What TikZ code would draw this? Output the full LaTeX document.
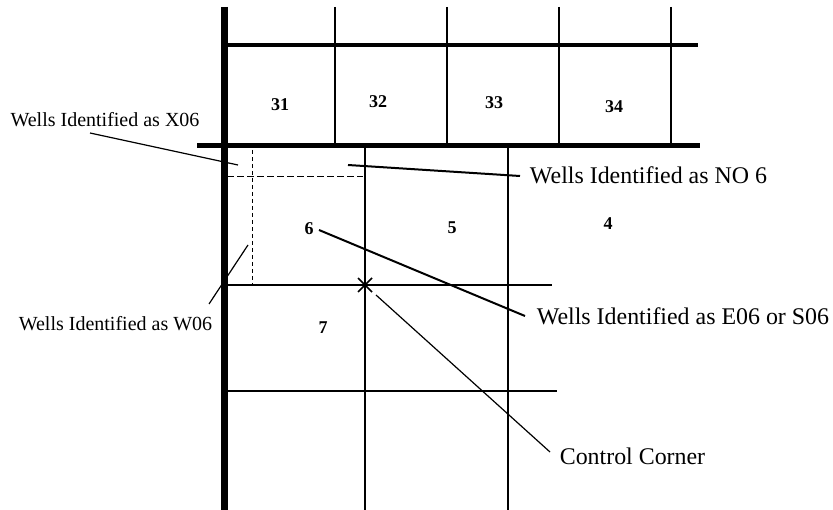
\documentclass[tikz,border=0pt]{standalone}
\usepackage{fontspec}
\setmainfont{Liberation Serif}
\usetikzlibrary{positioning,calc}

\tikzset{
    section/.style={font=\fontsize{18}{18}\selectfont\bfseries, inner sep=0pt},
    smalllabel/.style={font=\fontsize{20}{20}\selectfont, inner sep=0pt},
    biglabel/.style={font=\fontsize{23.9}{24}\selectfont, inner sep=0pt},
    leader/.style={line width=1.2pt},
    boldleader/.style={line width=2pt},
    gridline/.style={line width=2pt},
}

\begin{document}
\begin{tikzpicture}[x=1pt, y=-1pt]
    \useasboundingbox (0,0) rectangle (833,510);

    % Range line and township lines
    \draw[line width=7pt] (224,7) -- (224,510);
    \draw[line width=3.5pt] (224,45) -- (698,45);
    \draw[line width=5pt] (197,146) -- (700,146);

    % Sections in the row above
    \foreach \x/\w in {335/2.2, 447/1.5, 559/2.2, 671/1.2} {
        \draw[line width=\w pt] (\x,7) -- (\x,146);
    }

    % Section lines below
    \foreach \x in {365,508} {
        \draw[gridline] (\x,146) -- (\x,510);
    }
    \draw[gridline] (224,285.5) -- (552,285.5);
    \draw[gridline] (224,391.5) -- (557,391.5);

    % Lots along the lines
    \draw[dash pattern=on 4pt off 3pt, line width=1pt] (252,150) -- (252,285);
    \draw[dash pattern=on 7pt off 3pt, line width=1pt] (227,177) -- (363,177);

    % Section numbers
    \node[section] (s31) at (280,105) {31};
    \node[section] (s32) at (378,102) {32};
    \node[section] (s33) at (494,103) {33};
    \node[section] (s34) at (614,106.5) {34};
    \node[section] (s6) at (309,228.5) {6};
    \node[section] (s5) at (452,227.5) {5};
    \node[section] (s4) at (608,223.5) {4};
    \node[section] (s7) at (323,327.5) {7};

    % Control corner mark
    \node[inner sep=0pt, minimum size=0pt] (cross) at (365,285) {};
    \draw[line width=1.5pt] (358,278) -- (372,292);
    \draw[line width=1.5pt] (372,278) -- (358,292);

    % Labels
    \node[smalllabel] (x06) at (105,120) {Wells Identified as X06};
    \node[smalllabel] (w06) at (115.5,323.5) {Wells Identified as W06};
    \node[biglabel] (no6) at (648.5,175.5) {Wells Identified as NO 6};
    \node[biglabel] (e06) at (683,316.5) {Wells Identified as E06 or S06};
    \node[biglabel] (corner) at (632.5,456) {Control Corner};

    % Free ends of the leaders
    \coordinate (x06a) at (90,133);
    \coordinate (x06b) at (238,165);
    \coordinate (w06a) at (209,304);
    \coordinate (w06b) at (248,245);
    \coordinate (no6a) at (348,165);
    \coordinate (no6b) at (520,176);
    \coordinate (e06a) at (319,230);
    \coordinate (e06b) at (525,316);
    \coordinate (corner_a) at (376,295);
    \coordinate (corner_b) at (550,452);

    \draw[leader] (x06a) -- (x06b);
    \draw[leader] (w06a) -- (w06b);
    \draw[boldleader] (no6a) -- (no6b);
    \draw[boldleader] (e06a) -- (e06b);
    \draw[leader] (corner_a) -- (corner_b);
\end{tikzpicture}
\end{document}
